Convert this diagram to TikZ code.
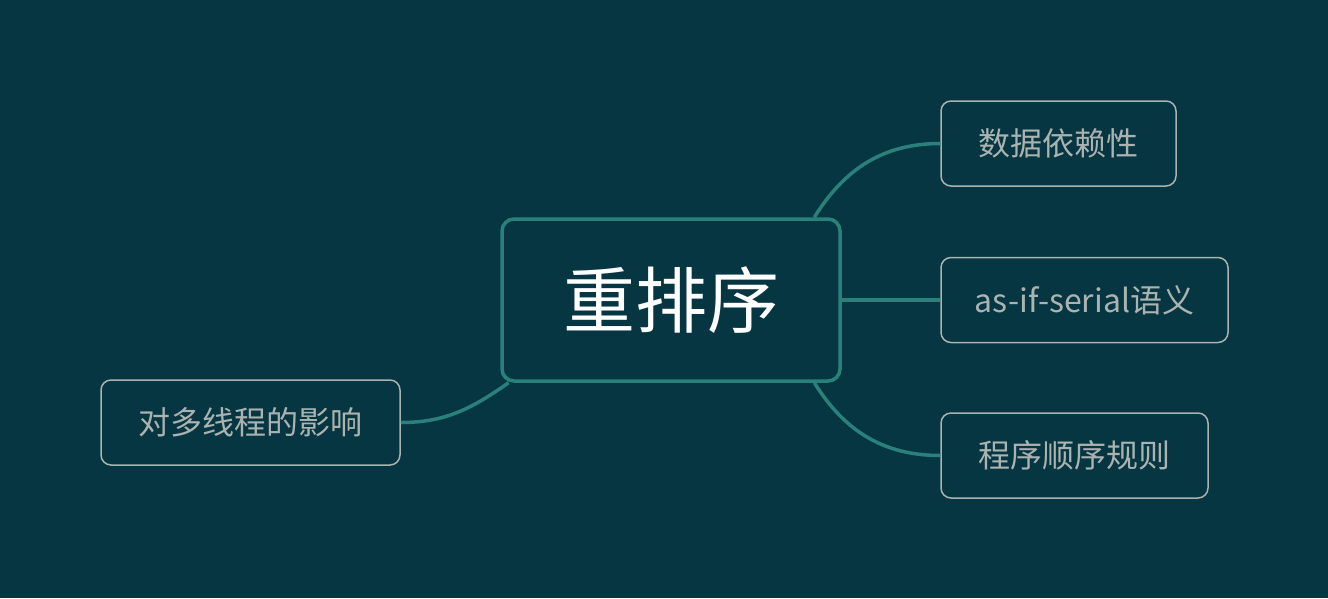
\documentclass[tikz,border=0pt]{standalone}
\usepackage{fontspec}
\newfontfamily\cjk{Noto Sans CJK SC}
\definecolor{bgteal}{HTML}{063642}
\definecolor{linkteal}{HTML}{2A807B}
\definecolor{leafgrey}{HTML}{AAB3B0}
\tikzset{
    rootbox/.style={draw=linkteal, line width=3.5pt, fill=bgteal, rounded corners=12pt,
        minimum width=338pt, minimum height=162pt, text=white,
        font=\cjk\fontsize{72}{80}\selectfont},
    leafbox/.style={draw=leafgrey, line width=1.5pt, fill=bgteal, rounded corners=10pt,
        minimum height=85pt, text=leafgrey, font=\cjk\fontsize{32}{38}\selectfont},
    link/.style={draw=linkteal, line width=3.5pt}
}
\begin{document}
\begin{tikzpicture}[x=1pt,y=-1pt]
        \fill[bgteal](0,0) rectangle (1328,598);
        \useasboundingbox (0,0) rectangle (1328,598);

        \node[rootbox] (reorder) at(671, 300){重排序};

        \node[leafbox, minimum width=235pt] (datadep) at(1058.5, 143.5){数据依赖性};
        \node[leafbox, minimum width=287pt] (asif)    at(1084.5, 300){as-if-serial语义};
        \node[leafbox, minimum width=267pt] (order)   at(1074.5, 455.5){程序顺序规则};
        \node[leafbox, minimum width=299pt] (multi)   at(250.5, 422.5){对多线程的影响};

        \draw[link](reorder.30) to[out=58, in=180] (datadep.west);
        \draw[link](reorder.east) -- (asif.west);
        \draw[link](reorder.-30) to[out=-58, in=180] (order.west);
        \draw[link](reorder.207) to[out=-145, in=0] (multi.east);
    \end{tikzpicture}
\end{document}
